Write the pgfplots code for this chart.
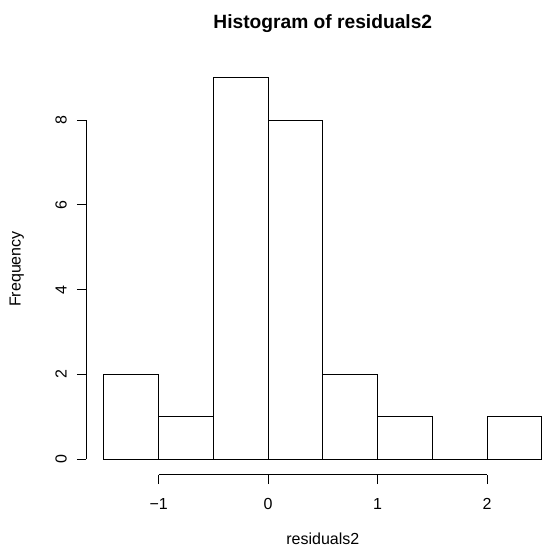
\documentclass[border=0pt]{standalone}
\usepackage{fontspec}
\setmainfont{Liberation Sans}
\usepackage{pgfplots}
\pgfplotsset{compat=1.18}

\begin{document}
\begin{tikzpicture}
% page is 544 x 551 px, 1px = 1bp
\useasboundingbox (0,0) rectangle (544bp,551bp);
\begin{axis}[
  at={(86.4bp,76.4bp)}, anchor=south west,
  scale only axis, width=472.8bp, height=412.3bp,
  xmin=-1.66, xmax=2.66, ymin=-0.36, ymax=9.36,
  axis x line*=bottom, axis y line*=left,
  axis line style={draw=none},
  tick align=outside, major tick length=9.6bp,
  tick style={black, line width=0.9bp},
  xtick={-1,0,1,2}, xticklabels={−1,0,1,2},
  ytick={0,2,4,6,8}, yticklabels={0,2,4,6,8},
  tick label style={font=\fontsize{16bp}{19bp}\selectfont, inner sep=0pt},
  xticklabel style={anchor=base, yshift=-25.3bp},
  yticklabel style={xshift=-10.3bp, rotate=90, anchor=base},
  clip=false,
]
\addplot[ybar interval, draw=black, fill=none, line width=0.9bp] coordinates {
  (-1.5,2) (-1.0,1) (-0.5,9) (0.0,8) (0.5,2) (1.0,1) (1.5,0) (2.0,1) (2.5,1)
};
\draw[line width=0.9bp] (axis cs:-1,-0.36) -- (axis cs:2,-0.36);
\draw[line width=0.9bp] (axis cs:-1.66,0) -- (axis cs:-1.66,8);
\end{axis}
\node[anchor=base, font=\fontsize{19.2bp}{23bp}\selectfont\bfseries] at (322.8bp,522.5bp) {Histogram of residuals2};
\node[anchor=base, font=\fontsize{16bp}{19bp}\selectfont] at (322.8bp,6.7bp) {residuals2};
\node[anchor=base, rotate=90, font=\fontsize{16bp}{19bp}\selectfont] at (20.7bp,282bp) {Frequency};
\end{tikzpicture}
\end{document}
